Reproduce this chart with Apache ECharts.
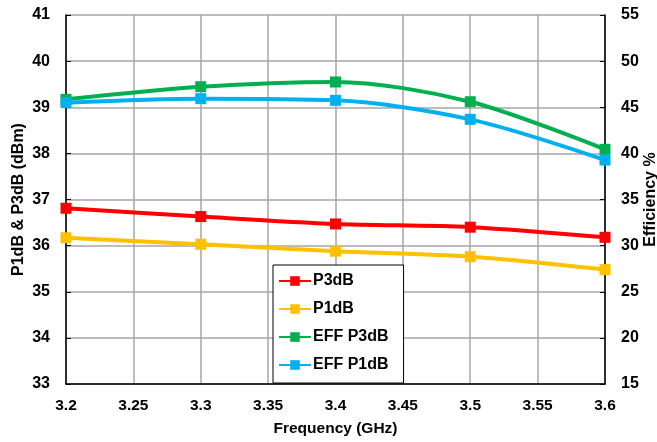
<!DOCTYPE html>
<html>
<head>
<meta charset="utf-8">
<script src="https://cdn.jsdelivr.net/npm/echarts@6/dist/echarts.min.js"></script>
<style>
  html, body { margin: 0; padding: 0; background: #fff; }
  #chart { width: 657px; height: 442px; }
</style>
</head>
<body>
<div id="chart"></div>
<script>
const freqs = [3.2, 3.3, 3.4, 3.5, 3.6];
const p3db = [36.81, 36.63, 36.47, 36.40, 36.18];
const p1db = [36.17, 36.03, 35.88, 35.76, 35.48];
const effP3db = [45.86, 47.23, 47.74, 45.60, 40.44];
const effP1db = [45.50, 45.93, 45.75, 43.69, 39.28];

const colors = ['#FF0000', '#FFC000', '#00B050', '#00B0F0'];
const font = 'Liberation Sans, Arial, sans-serif';

const myChart = echarts.init(document.getElementById('chart'));

function pairs(vals) {
  return freqs.map((f, i) => [f, vals[i]]);
}

function lineSeries(name, vals, color, axisIdx) {
  return {
    name: name,
    type: 'line',
    smooth: 0.3,
    yAxisIndex: axisIdx,
    data: pairs(vals),
    symbol: 'rect',
    symbolSize: 11,
    lineStyle: { width: 4, color: color },
    itemStyle: { color: color },
    z: 3
  };
}

const tickStyle = { color: '#000', fontFamily: font, fontWeight: 'bold', fontSize: 16 };
const nameStyle = { color: '#000', fontFamily: font, fontWeight: 'bold', fontSize: 16 };

const option = {
  animation: false,
  color: colors,
  grid: { left: 66, right: 52, top: 15, bottom: 58, outerBoundsMode: 'none', containLabel: false },
  legend: {
    orient: 'vertical',
    left: 273,
    top: 265,
    padding: [8, 15, 10, 5],
    itemGap: 12,
    itemWidth: 32,
    itemHeight: 12,
    backgroundColor: '#fff',
    borderColor: '#000',
    borderWidth: 1,
    textStyle: { color: '#000', fontFamily: font, fontWeight: 'bold', fontSize: 16, padding: [0, 0, 0, -3] },
    data: ['P3dB', 'P1dB', 'EFF P3dB', 'EFF P1dB']
  },
  xAxis: {
    type: 'value',
    min: 3.2,
    max: 3.6,
    interval: 0.05,
    name: 'Frequency (GHz)',
    nameLocation: 'middle',
    nameGap: 37,
    nameMoveOverlap: false,
    nameTextStyle: Object.assign({}, nameStyle, { fontSize: 15.5 }),
    axisLine: { show: true, lineStyle: { color: '#000', width: 1.5 } },
    axisTick: { show: false },
    axisLabel: Object.assign({ margin: 14 }, tickStyle, { fontSize: 15.5, formatter: v => String(parseFloat(v.toFixed(2))) }),
    splitLine: { show: true, lineStyle: { color: '#a6a6a6', width: 1.5 } }
  },
  yAxis: [
    {
      type: 'value',
      min: 33,
      max: 41,
      interval: 1,
      position: 'left',
      name: 'P1dB & P3dB (dBm)',
      nameLocation: 'middle',
      nameGap: 39,
      nameMoveOverlap: false,
      nameTextStyle: nameStyle,
      axisLine: { show: true, lineStyle: { color: '#000', width: 1.5 } },
      axisTick: { show: true, inside: true, length: 5, lineStyle: { color: '#000' } },
      axisLabel: Object.assign({ margin: 16 }, tickStyle),
      splitLine: { show: true, lineStyle: { color: '#a6a6a6', width: 1.5 } }
    },
    {
      type: 'value',
      min: 15,
      max: 55,
      interval: 5,
      position: 'right',
      name: 'Efficiency %',
      nameLocation: 'middle',
      nameGap: 38,
      nameMoveOverlap: false,
      nameTextStyle: nameStyle,
      axisLine: { show: true, lineStyle: { color: '#000', width: 1.5 } },
      axisTick: { show: true, inside: true, length: 5, lineStyle: { color: '#000' } },
      axisLabel: Object.assign({ margin: 16 }, tickStyle),
      splitLine: { show: false }
    }
  ],
  series: [
    lineSeries('P3dB', p3db, colors[0], 0),
    lineSeries('P1dB', p1db, colors[1], 0),
    lineSeries('EFF P3dB', effP3db, colors[2], 1),
    lineSeries('EFF P1dB', effP1db, colors[3], 1)
  ]
};

myChart.setOption(option);
</script>
</body>
</html>
